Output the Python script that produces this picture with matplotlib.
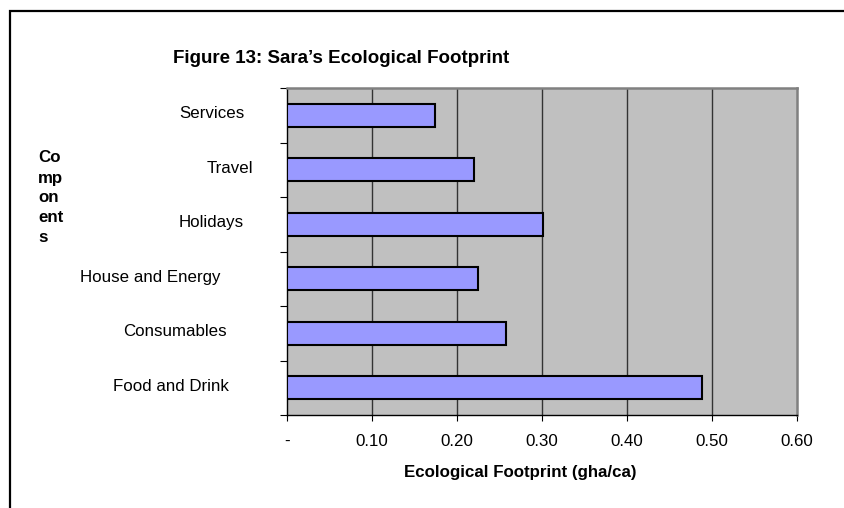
import matplotlib
matplotlib.use("Agg")
import matplotlib.pyplot as plt
from matplotlib.patches import Rectangle
from matplotlib.transforms import blended_transform_factory

# Data (bottom to top)
categories = ["Food and Drink", "Consumables", "House and Energy",
              "Holidays", "Travel", "Services"]
footprint = [0.488, 0.258, 0.225, 0.301, 0.220, 0.174]
x_ticks = [0.0, 0.1, 0.2, 0.3, 0.4, 0.5, 0.6]
x_tick_labels = ["-", "0.10", "0.20", "0.30", "0.40", "0.50", "0.60"]

title = "Figure 13: Sara\u2019s Ecological Footprint"
x_label = "Ecological Footprint (gha/ca)"
y_label_lines = ["Co", "mp", "on", "ent", "s"]

W, H = 844, 508
FONT = "Liberation Sans"
plt.rcParams["font.family"] = [FONT, "DejaVu Sans"]


def fx(px):
    return px / W


def fy(py):
    return 1 - py / H


fig = plt.figure(figsize=(W / 100, H / 100), dpi=100)
fig.patch.set_facecolor("white")

# outer chart border (runs off the right and bottom edges)
fig.patches.append(Rectangle((fx(10), fy(H + 20)), 1.2, fy(11) - fy(H + 20),
                             transform=fig.transFigure, fill=False,
                             edgecolor="black", linewidth=1.6, zorder=0))

left, right, top, bottom = 287, 797, 88, 415
ax = fig.add_axes([fx(left), fy(bottom), fx(right - left), (bottom - top) / H])
ax.set_facecolor("#C0C0C0")

ypos = list(range(len(categories)))
ax.barh(ypos, footprint, height=0.43, color="#9999FF",
        edgecolor="black", linewidth=1.5, zorder=3)

ax.set_xlim(0, 0.6)
ax.set_ylim(-0.5, len(categories) - 0.5)

# vertical gridlines
for v in x_ticks[1:-1]:
    ax.axvline(v, color="#333333", linewidth=1.0, zorder=1)

ax.set_xticks(x_ticks)
ax.set_xticklabels(x_tick_labels, fontsize=12.2)
ax.tick_params(axis="x", direction="out", length=4.5, width=0.8,
               color="black", pad=9)

# category tick marks at boundaries
ax.set_yticks([i - 0.5 for i in range(len(categories) + 1)])
ax.set_yticklabels([])
ax.tick_params(axis="y", direction="out", length=5, width=0.8, color="black")

for side in ("top", "right"):
    ax.spines[side].set_color("#808080")
    ax.spines[side].set_linewidth(1.8)
for side in ("left", "bottom"):
    ax.spines[side].set_color("black")
    ax.spines[side].set_linewidth(1.0)

# category labels
label_right_px = [229, 227, 220, 244, 253, 245]
trans = blended_transform_factory(fig.transFigure, ax.transData)
for i, (name, xr) in enumerate(zip(categories, label_right_px)):
    ax.text(fx(xr), i + 0.03, name, transform=trans, ha="right",
            va="center", fontsize=12.2, color="black", clip_on=False)

# title
fig.text(fx(173), fy(63), title, ha="left", va="baseline",
         fontsize=13.5, fontweight="bold")

# x axis title
fig.text(fx(520), fy(473), x_label, ha="center", va="center",
         fontsize=12.2, fontweight="bold")

# wrapped y axis title
for k, line in enumerate(y_label_lines):
    fig.text(fx(38), fy(158 + 20 * k), line, ha="left", va="center",
             fontsize=12.2, fontweight="bold")

fig.savefig("out.png", dpi=100)
